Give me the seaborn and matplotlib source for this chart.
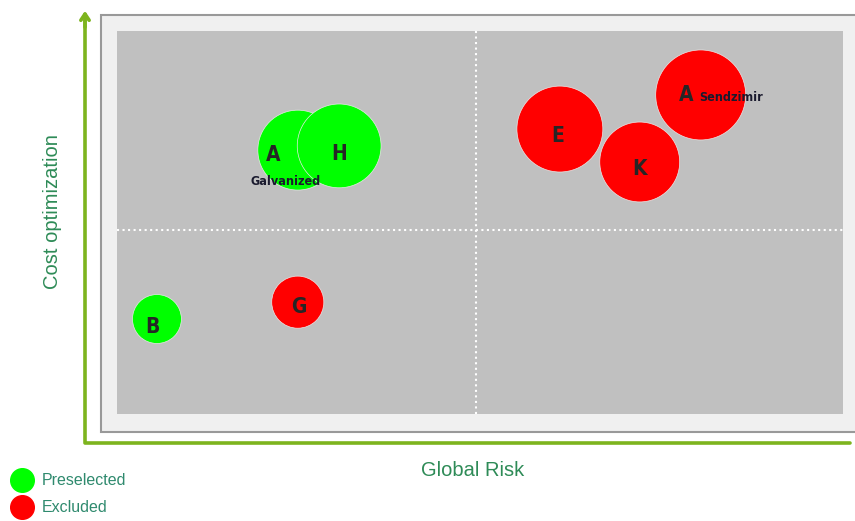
import matplotlib
matplotlib.use("Agg")
import matplotlib.pyplot as plt
import seaborn as sns
import pandas as pd
import numpy as np
from matplotlib.patches import Rectangle
from matplotlib.lines import Line2D

# supplier bubbles
letters = ['A', 'H', 'E', 'K', 'A', 'G', 'B']
variants = ['Galvanized', '', '', '', 'Sendzimir', '', '']
status = ['Preselected', 'Preselected', 'Excluded', 'Excluded', 'Excluded', 'Excluded', 'Preselected']
global_risk = [2.49, 3.06, 6.10, 7.20, 8.04, 2.49, 0.55]
cost_opt = [6.89, 7.00, 7.44, 6.58, 8.33, 2.92, 2.48]
spend = [16.0, 17.6, 18.5, 16.0, 20.3, 6.8, 6.0]

risk_mid = 4.94
cost_mid = 4.80

df = pd.DataFrame({
    'letter': letters,
    'variant': variants,
    'status': status,
    'risk': global_risk,
    'cost': cost_opt,
    'spend': spend,
})

sns.set_style("white")
plt.rcParams['font.family'] = ['Liberation Sans', 'DejaVu Sans']

palette = {'Preselected': '#00ff00', 'Excluded': '#ff0000'}
label_green = '#2e8b57'
arrow_green = '#7db41e'

W, H = 855, 521
fig = plt.figure(figsize=(W / 100, H / 100), dpi=100)

# background layer in pixel coords
bg = fig.add_axes([0, 0, 1, 1], zorder=0)
bg.set_xlim(0, W)
bg.set_ylim(H, 0)
bg.axis('off')
bg.add_patch(Rectangle((101, 15), 770, 417, facecolor='#f0f0f0', edgecolor='#999999', lw=1.5))
bg.plot([85, 85, 850], [20, 443, 443], color=arrow_green, lw=2.6, solid_joinstyle='round')
bg.annotate('', xy=(85, 8), xytext=(85, 30),
            arrowprops=dict(arrowstyle='->, head_length=0.45, head_width=0.3', color=arrow_green, lw=2.6))
bg.annotate('', xy=(856, 443), xytext=(830, 443),
            arrowprops=dict(arrowstyle='->, head_length=0.45, head_width=0.3', color=arrow_green, lw=2.6))

ax = fig.add_axes([117 / W, (H - 414) / H, 726 / W, 383 / H], zorder=1)
ax.set_facecolor('#c0c0c0')

sns.scatterplot(
    data=df, x='risk', y='cost',
    hue='status', palette=palette,
    size='spend', sizes=(0, 4199), size_norm=(0, 20.3),
    edgecolor='#e8e8e8', linewidth=0.5,
    legend=False, ax=ax, zorder=3,
)

ax.axvline(risk_mid, color='white', ls=':', lw=1.5, zorder=2)
ax.axhline(cost_mid, color='white', ls=':', lw=1.5, zorder=2)

ax.set_xlim(0, 10)
ax.set_ylim(0, 10)
ax.set_xticks([])
ax.set_yticks([])
ax.set_xlabel('')
ax.set_ylabel('')
for s in ax.spines.values():
    s.set_visible(False)

# letter offsets (pixels -> points) relative to bubble centre
letter_off = [(-25, -5), (0, -8), (-2, -7), (0, -7), (-15, 0), (1, -5), (-4, -8)]
variant_off = [(-12, -31), None, None, None, (30, -3), None, None]
for i, row in df.iterrows():
    dx, dy = letter_off[i]
    ax.annotate(row['letter'], (row['risk'], row['cost']),
                xytext=(dx * 0.72, dy * 0.72), textcoords='offset points',
                ha='center', va='center', fontsize=15, family='DejaVu Sans',
                fontstretch='condensed', fontweight='bold', zorder=5)
    if row['variant']:
        vx, vy = variant_off[i]
        ax.annotate(row['variant'], (row['risk'], row['cost']),
                    xytext=(vx * 0.72, vy * 0.72), textcoords='offset points',
                    ha='center', va='center', fontsize=9, family='DejaVu Sans',
                    fontstretch='condensed', fontweight='bold',
                    color='#1a1a2e', zorder=5)

fig.text(52 / W, 1 - 212 / H, 'Cost optimization', rotation=90, ha='center', va='center',
         color=label_green, fontsize=14.5)
fig.text(473 / W, 1 - 470 / H, 'Global Risk', ha='center', va='center',
         color=label_green, fontsize=14.5)

handles = [Line2D([], [], marker='o', ls='', markersize=17, markerfacecolor=palette[k],
                  markeredgecolor=palette[k]) for k in ['Preselected', 'Excluded']]
leg = fig.legend(handles, ['Preselected', 'Excluded'], loc='upper left',
                 bbox_to_anchor=(0.0, 1 - 462 / H), frameon=False, fontsize=11.5,
                 handletextpad=0.5, labelspacing=0.75, borderaxespad=0.3, handlelength=1.4)
for t in leg.get_texts():
    t.set_color('#2f8a6e')

fig.savefig('out.png', dpi=100)
